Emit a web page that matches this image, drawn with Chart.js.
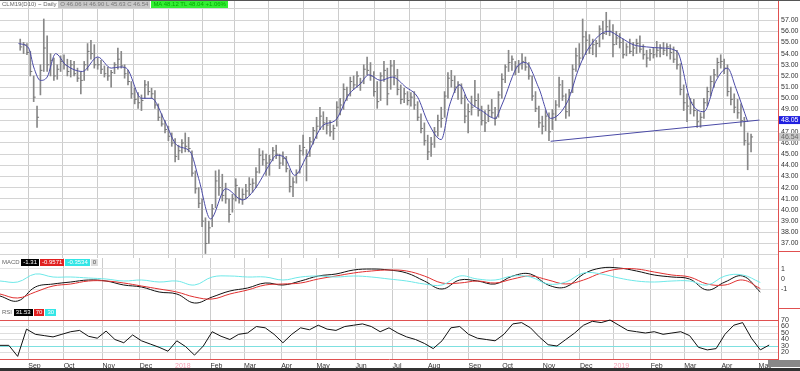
<!DOCTYPE html>
<html>
<head>
<meta charset="utf-8">
<script src="https://cdn.jsdelivr.net/npm/chart.js@4.4.1/dist/chart.umd.min.js"></script>
<style>
  body { margin: 0; background: #fff; width: 800px; height: 371px; overflow: hidden; position: relative; font-family: "Liberation Sans", Arial, sans-serif; }
  canvas { position: absolute; left: 0; }
  .hdr { position: absolute; font-size: 6px; line-height: 7px; white-space: nowrap; color: #666; }
  .box { display: inline-block; padding: 0 2px; margin-right: 1px; }
  .sep { position: absolute; left: 778px; width: 22px; height: 1px; background: #e05050; }
  #topBar { position: absolute; left: 0; top: 0; width: 800px; height: 1px; background: #555; }
  #bottomBar { position: absolute; left: 0; top: 368px; width: 800px; height: 3px; background: #333; }
  #scroll { position: absolute; left: 768px; top: 360px; width: 32px; height: 7px; background: #888; }
</style>
</head>
<body>
<canvas id="main" width="800" height="258" style="top:0"></canvas>
<canvas id="macd" width="800" height="50" style="top:258px"></canvas>
<canvas id="rsi" width="800" height="63" style="top:308px"></canvas>
<div id="topBar"></div>
<div class="sep" style="top:251px"></div>
<div class="sep" style="top:308px"></div>
<div id="bottomBar"></div>
<div id="scroll"></div>

<div class="hdr" style="left:2px;top:1px">CLM19(D10) ~ Daily <span class="box" style="background:#c8c8c8;color:#777">O 46.06 H 46.90 L 45.63 C 46.54</span><span class="box" style="background:#33ee33;color:#0a0">MA 48.12 TL 48.04 +1.06%</span></div>
<div class="hdr" style="left:2px;top:259px">MACD <span class="box" style="background:#000;color:#fff">-1.31</span><span class="box" style="background:#e02020;color:#fff">-0.9571</span><span class="box" style="background:#33e6e6;color:#fff">-0.3534</span><span class="box" style="background:#ddd;color:#555">0</span></div>
<div class="hdr" style="left:2px;top:309px">RSI <span class="box" style="background:#000;color:#fff">31.53</span><span class="box" style="background:#e02020;color:#fff">70</span><span class="box" style="background:#33e6e6;color:#fff">30</span></div>

<script>
// month starts (trading-day index) and their labels
var monthDays = [16, 36, 58, 79, 99, 119, 138, 159, 179, 201, 222, 242, 265, 284, 307, 328, 347, 368, 387, 408, 429];
var monthLabels = ['Sep', 'Oct', 'Nov', 'Dec', '2018', 'Feb', 'Mar', 'Apr', 'May', 'Jun', 'Jul', 'Aug', 'Sep', 'Oct', 'Nov', 'Dec', '2019', 'Feb', 'Mar', 'Apr', 'May'];

// daily bars, one every 2 trading days
var highs = [55.3, 55.0, 54.9, 54.2, 52.0, 49.3, 53.0, 57.1, 55.6, 54.0,
  53.6, 53.0, 53.8, 53.9, 53.5, 53.4, 53.3, 52.7, 52.4, 53.3,
  54.9, 55.2, 54.8, 53.6, 53.4, 52.9, 52.8, 52.5, 53.2, 54.5,
  54.2, 53.0, 52.5, 51.5, 50.9, 50.5, 50.3, 51.6, 51.5, 50.9,
  50.7, 49.5, 48.6, 48.0, 47.5, 46.9, 46.4, 45.8, 46.3, 46.9,
  46.5, 45.3, 43.5, 42.0, 41.0, 39.3, 39.0, 40.5, 43.5, 43.6,
  43.2, 42.4, 41.0, 41.4, 42.8, 42.0, 41.9, 42.3, 42.9, 42.8,
  43.8, 45.5, 45.3, 45.0, 44.9, 45.6, 45.8, 45.0, 45.2, 44.8,
  43.6, 42.9, 43.6, 45.8, 46.7, 45.4, 46.5, 47.4, 48.3, 49.2,
  48.8, 48.3, 48.0, 47.6, 49.7, 50.0, 51.3, 51.0, 51.9, 52.0,
  52.4, 51.8, 53.0, 53.7, 53.2, 52.4, 51.5, 52.3, 53.3, 52.7,
  53.4, 53.4, 52.6, 51.2, 50.9, 50.6, 50.5, 50.6, 49.7, 48.6,
  47.8, 46.7, 46.5, 47.4, 48.5, 49.2, 50.6, 52.3, 52.5, 52.0,
  51.5, 51.3, 50.3, 49.5, 50.2, 51.6, 50.4, 49.3, 48.9, 49.4,
  49.9, 49.2, 50.6, 52.2, 53.0, 54.3, 53.8, 53.3, 53.4, 54.0,
  53.7, 53.2, 52.0, 50.6, 49.3, 48.4, 48.9, 48.7, 49.0, 49.8,
  51.9, 51.6, 50.4, 50.8, 53.0, 54.5, 54.9, 57.1, 56.0, 55.7,
  55.3, 55.2, 56.5, 56.9, 57.7, 57.0, 56.6, 56.0, 55.8, 55.3,
  54.9, 55.3, 55.0, 55.3, 55.6, 54.8, 54.3, 54.4, 54.5, 55.1,
  54.8, 55.0, 54.9, 54.8, 54.6, 54.3, 53.1, 51.2, 50.4, 50.0,
  49.9, 48.9, 48.7, 50.0, 51.0, 52.0, 52.6, 53.6, 53.9, 53.5,
  53.0, 51.0, 50.4, 49.9, 49.5, 48.3, 46.9, 46.8];
var lows = [54.3, 54.0, 53.9, 52.0, 49.7, 47.4, 50.3, 52.4, 52.4, 52.0,
  51.6, 51.7, 52.4, 52.6, 52.0, 51.9, 52.0, 51.5, 50.4, 51.6,
  52.5, 53.5, 52.7, 52.6, 52.2, 51.9, 51.6, 51.0, 52.2, 52.6,
  52.7, 51.8, 51.2, 50.0, 49.5, 49.1, 48.9, 50.0, 50.3, 50.0,
  49.1, 48.0, 47.5, 46.9, 46.2, 45.7, 44.3, 44.5, 45.1, 45.2,
  45.2, 43.0, 41.5, 40.2, 38.5, 36.1, 37.0, 38.5, 40.2, 41.3,
  40.8, 40.6, 38.9, 39.8, 40.8, 40.6, 40.5, 41.0, 41.3, 41.6,
  42.0, 43.3, 44.0, 43.1, 43.1, 44.4, 44.6, 43.7, 44.0, 43.4,
  41.6, 41.2, 42.4, 43.3, 44.9, 42.6, 44.8, 45.9, 46.4, 47.2,
  47.2, 46.8, 46.6, 46.3, 47.5, 48.5, 49.0, 49.8, 50.2, 50.8,
  51.0, 50.7, 51.3, 52.1, 51.6, 50.2, 49.1, 49.8, 51.5, 49.4,
  50.8, 51.2, 50.3, 49.5, 49.6, 49.4, 49.3, 49.0, 48.0, 46.9,
  45.8, 44.5, 44.8, 45.6, 46.6, 47.4, 48.3, 50.0, 51.0, 50.5,
  49.9, 49.5, 47.8, 46.9, 48.5, 49.3, 48.4, 47.6, 47.0, 47.9,
  48.3, 47.6, 48.3, 50.0, 51.4, 52.4, 52.5, 52.1, 52.3, 52.6,
  52.5, 51.7, 49.8, 48.8, 47.4, 46.8, 47.1, 46.2, 47.2, 48.0,
  49.2, 49.8, 48.2, 48.4, 50.5, 52.4, 52.8, 53.5, 53.9, 54.0,
  53.9, 53.7, 54.6, 55.3, 55.7, 55.6, 53.7, 54.8, 54.5, 53.6,
  53.8, 54.0, 53.8, 54.0, 54.1, 53.5, 52.8, 53.4, 53.6, 53.7,
  53.7, 53.9, 53.8, 53.5, 53.2, 52.6, 50.3, 48.9, 47.9, 48.6,
  48.4, 47.4, 47.4, 48.2, 49.3, 50.2, 51.0, 51.9, 52.7, 52.2,
  50.2, 49.4, 48.7, 48.2, 47.5, 45.8, 43.6, 45.2];
var closes = [54.6, 54.8, 54.1, 52.4, 50.1, 48.3, 52.5, 54.5, 53.0, 53.4,
  52.0, 52.6, 53.3, 53.0, 52.4, 53.0, 52.2, 51.8, 51.6, 53.0,
  54.2, 54.0, 53.0, 53.0, 52.6, 52.2, 52.0, 52.3, 53.0, 53.5,
  52.9, 52.2, 51.5, 50.4, 49.9, 49.6, 49.8, 51.2, 50.6, 50.4,
  49.4, 48.3, 47.7, 47.2, 46.6, 46.0, 44.8, 45.3, 46.0, 45.7,
  45.5, 43.3, 41.9, 40.6, 39.0, 37.0, 38.4, 40.1, 42.6, 42.0,
  41.3, 41.0, 39.6, 41.0, 42.2, 41.0, 41.4, 41.7, 42.3, 42.4,
  43.4, 44.9, 44.5, 44.2, 44.5, 45.3, 45.0, 44.2, 44.6, 43.7,
  42.1, 42.5, 43.3, 45.3, 45.6, 44.8, 46.1, 47.1, 47.5, 48.4,
  47.8, 47.6, 47.0, 47.3, 49.2, 49.4, 50.8, 50.3, 51.5, 51.2,
  52.0, 51.4, 52.6, 52.5, 52.0, 50.6, 49.7, 52.0, 52.5, 50.4,
  52.9, 52.0, 50.8, 49.9, 50.4, 49.8, 50.1, 49.4, 48.3, 47.3,
  46.2, 45.2, 45.9, 47.0, 48.0, 48.2, 50.2, 51.8, 51.6, 51.0,
  51.2, 50.0, 48.4, 48.8, 49.2, 49.8, 48.9, 48.0, 47.8, 48.9,
  48.7, 48.2, 50.3, 51.7, 52.8, 53.2, 53.5, 52.8, 53.0, 53.3,
  52.8, 52.0, 50.2, 49.1, 47.8, 47.5, 48.4, 47.0, 48.6, 49.4,
  51.2, 50.2, 48.8, 50.5, 52.6, 53.8, 53.6, 55.5, 55.2, 54.5,
  54.8, 54.9, 56.2, 55.8, 56.4, 56.0, 54.8, 55.4, 55.0, 53.9,
  54.6, 54.2, 54.5, 54.9, 54.4, 53.9, 53.6, 54.0, 53.9, 54.3,
  54.5, 54.3, 54.6, 54.1, 53.5, 53.0, 50.8, 49.6, 49.3, 49.6,
  48.9, 47.9, 48.3, 49.6, 50.6, 51.5, 52.1, 53.2, 53.3, 52.7,
  50.6, 49.9, 49.2, 48.7, 48.0, 46.2, 45.9, 46.54];

// moving average
var maDays = [0, 6, 9, 13, 17, 22, 28, 38, 47, 55, 60, 64, 73, 79, 87, 94, 102, 107, 114, 123,
  133, 140, 150, 153, 158, 164, 171, 181, 188, 196, 203, 208, 215, 222, 230, 237, 243, 251, 256, 262,
  267, 275, 283, 287, 297, 301, 309, 316, 326, 333, 339, 350, 358, 365, 373, 382, 391, 399, 407, 414,
  421, 426, 433];
var maVals = [54.9, 54.5, 52.8, 51.6, 51.9, 54.0, 53.0, 52.4, 53.7, 52.7, 52.8, 52.7, 50.0, 50.0, 47.9, 45.8, 45.2, 42.8, 39.2, 41.9,
  40.9, 41.8, 44.3, 44.9, 44.7, 43.1, 44.8, 47.6, 48.0, 50.3, 51.3, 52.1, 51.6, 51.9, 51.0, 50.1, 47.9, 46.3, 49.4, 51.2,
  49.8, 48.9, 48.2, 49.4, 53.0, 53.2, 50.9, 48.2, 49.7, 52.8, 54.6, 56.0, 55.4, 54.8, 54.6, 54.5, 54.2, 49.8, 48.8, 51.5,
  52.7, 50.9, 47.9];

// support trendline
var trendDays = [316, 440];
var trendVals = [46.15, 48.05];

// MACD panel, every 10 trading days
var macdVals = [-1.7, -2.2, -0.8, -0.5, -0.3, -0.1, -0.2, -0.6, -0.8, -1.3, -1.5, -2.4, -1.8, -1.2, -0.9, -0.4, -0.6, -0.2, 0.3, 0.5,
  0.9, 1.0, 0.9, 0.6, -0.2, -1.0, -0.1, -0.2, -0.5, 0.3, 0.5, -0.6, -0.8, 0.5, 1.1, 1.1, 0.8, 0.4, 0.2, 0.0,
  -1.1, -0.3, 0.3, -1.3];
var signalVals = [-1.5, -1.9, -1.3, -0.7, -0.5, -0.2, -0.2, -0.4, -0.7, -1.0, -1.3, -1.8, -2.0, -1.5, -1.1, -0.6, -0.5, -0.4, 0.0, 0.3,
  0.6, 0.8, 0.9, 0.8, 0.3, -0.4, -0.4, -0.2, -0.4, 0.0, 0.3, -0.1, -0.5, -0.1, 0.6, 1.0, 1.0, 0.7, 0.4, 0.2,
  -0.5, -0.6, -0.1, -0.96];
var histVals = [-0.2, -0.3, 0.5, 0.2, 0.2, 0.1, 0.0, -0.2, -0.1, -0.3, -0.2, -0.6, 0.2, 0.3, 0.2, 0.2, -0.1, 0.2, 0.3, 0.2,
  0.3, 0.2, 0.0, -0.2, -0.5, -0.6, 0.3, 0.0, -0.1, 0.3, 0.2, -0.5, -0.3, 0.6, 0.5, 0.1, -0.2, -0.3, -0.2, -0.2,
  -0.6, 0.3, 0.4, -0.35];

// RSI panel, every 5 trading days
var rsiVals = [31, 31, 14, 56, 48, 46, 44, 48, 52, 54, 45, 42, 53, 40, 35, 47, 38, 33, 28, 22,
  38, 29, 16, 30, 52, 45, 40, 48, 50, 60, 58, 48, 35, 48, 58, 55, 62, 56, 54, 60,
  62, 64, 60, 52, 58, 50, 44, 40, 34, 26, 38, 58, 60, 48, 42, 40, 38, 48, 64, 66,
  58, 44, 32, 30, 40, 50, 62, 68, 66, 70, 62, 54, 52, 50, 52, 48, 50, 52, 46, 28,
  24, 26, 48, 62, 66, 42, 24, 31.5];

var fontSmall = { family: 'Liberation Sans', size: 7 };

function pts(days, vals) {
  return vals.map(function (v, i) { return { x: days[i], y: v }; });
}
function stepDays(n, step) {
  return Array.from({ length: n }, function (_, i) { return i * step; });
}

function xScale(showLabels) {
  return {
    type: 'linear', min: 0, max: 440,
    afterBuildTicks: function (s) { s.ticks = monthDays.map(function (v) { return { value: v }; }); },
    afterFit: function (s) {
      s.height = showLabels ? 12 : 0;
      s.paddingLeft = 0; s.paddingRight = 0; s.paddingTop = 0; s.paddingBottom = 0;
    },
    grid: { color: '#cccccc', drawTicks: false },
    border: { display: showLabels, color: '#e05050' },
    ticks: {
      display: showLabels, autoSkip: false, maxRotation: 0, align: 'start', padding: 3,
      font: fontSmall,
      color: function (c) { var l = monthLabels[c.index]; return (l === '2018' || l === '2019') ? '#f5a0b4' : '#333'; },
      callback: function (v, i) { return monthLabels[i]; }
    }
  };
}

function yScale(min, max, ticks, fmt, gridColor) {
  return {
    position: 'right', min: min, max: max,
    afterBuildTicks: function (s) { s.ticks = ticks.map(function (v) { return { value: v }; }); },
    afterFit: function (s) {
      s.width = 22;
      s.paddingLeft = 0; s.paddingRight = 0; s.paddingTop = 0; s.paddingBottom = 0;
    },
    grid: { color: gridColor, drawTicks: false },
    border: { color: '#e05050' },
    ticks: { font: fontSmall, color: '#333', padding: 3, autoSkip: false, callback: fmt }
  };
}

var basePlugins = { legend: { display: false }, tooltip: { enabled: false } };
var baseLayout = { padding: 0, autoPadding: false };

// price labels on the right axis
var priceTags = {
  id: 'priceTags',
  afterDraw: function (chart) {
    var ctx = chart.ctx, y = chart.scales.y, left = chart.chartArea.right + 1;
    function tag(v, bg, fg) {
      var py = y.getPixelForValue(v);
      ctx.save();
      ctx.fillStyle = bg;
      ctx.fillRect(left, py - 4, 21, 8);
      ctx.fillStyle = fg;
      ctx.font = '7px "Liberation Sans"';
      ctx.textBaseline = 'middle';
      ctx.fillText(v.toFixed(2), left + 2, py);
      ctx.restore();
    }
    tag(closes[closes.length - 1], '#c8c8c8', '#666');
    tag(trendVals[1], '#2020e0', '#fff');
  }
};

var priceTicks = [];
for (var p = 36; p <= 58; p++) priceTicks.push(p);

new Chart(document.getElementById('main'), {
  type: 'bar',
  data: {
    datasets: [
      {
        type: 'line', data: pts(maDays, maVals), borderColor: '#4a4aa6', borderWidth: 1,
        pointRadius: 0, tension: 0.4, cubicInterpolationMode: 'monotone', order: 1
      },
      {
        type: 'line', data: pts(trendDays, trendVals), borderColor: '#4a4aa6', borderWidth: 1,
        pointRadius: 0, order: 1
      },
      {
        type: 'line', data: closes.map(function (v, i) { return { x: 1.6 + 2 * i, y: v }; }),
        showLine: false, pointStyle: 'line', pointRadius: 1, borderColor: '#777', borderWidth: 1, order: 2
      },
      {
        type: 'bar', data: highs.map(function (h, i) { return { x: 1 + 2 * i, y: [lows[i], h] }; }),
        backgroundColor: '#888', barThickness: 1, order: 3
      }
    ]
  },
  options: {
    responsive: false, animation: false, layout: baseLayout,
    plugins: basePlugins,
    scales: {
      x: xScale(false),
      y: yScale(35.7, 58.8, priceTicks, function (v) { return (v >= 37 && v <= 57) ? v.toFixed(2) : ''; }, '#d4d4d4')
    }
  },
  plugins: [priceTags]
});

var macdDays = stepDays(macdVals.length, 10);
new Chart(document.getElementById('macd'), {
  type: 'line',
  data: {
    datasets: [
      { data: pts(macdDays, histVals), borderColor: '#6ee8e8', borderWidth: 1, pointRadius: 0, tension: 0.4 },
      { data: pts(macdDays, signalVals), borderColor: '#e03030', borderWidth: 1, pointRadius: 0, tension: 0.4 },
      { data: pts(macdDays, macdVals), borderColor: '#111', borderWidth: 1, pointRadius: 0, tension: 0.4 }
    ]
  },
  options: {
    responsive: false, animation: false, layout: baseLayout,
    plugins: basePlugins,
    scales: {
      x: xScale(false),
      y: yScale(-2.9, 2.1, [1, 0, -1], function (v) { return String(v); },
        function (c) { return c.tick.value === 0 ? 'rgba(0,0,0,0)' : '#e4e4e4'; })
    }
  }
});

var rsiDays = stepDays(rsiVals.length, 5);
new Chart(document.getElementById('rsi'), {
  type: 'line',
  data: {
    datasets: [
      { data: pts(rsiDays, rsiVals), borderColor: '#111', borderWidth: 1, pointRadius: 0, tension: 0 }
    ]
  },
  options: {
    responsive: false, animation: false, layout: baseLayout,
    plugins: basePlugins,
    scales: {
      x: xScale(true),
      y: yScale(10, 88.5, [20, 30, 40, 50, 60, 70], function (v) { return String(v); },
        function (c) { return c.tick.value === 70 ? '#e05050' : (c.tick.value === 30 ? '#7ee0e0' : '#dedede'); })
    }
  }
});
</script>
</body>
</html>
